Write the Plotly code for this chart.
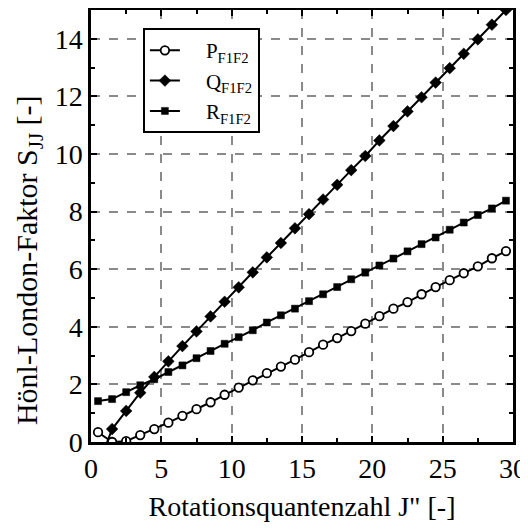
import plotly.graph_objects as go

J = [0.5 + i for i in range(30)]

P_F1F2 = [0.34, 0.00, 0.03, 0.24, 0.45, 0.67, 0.91, 1.14, 1.38, 1.64,
          1.89, 2.14, 2.39, 2.62, 2.86, 3.12, 3.38, 3.61, 3.85, 4.11,
          4.37, 4.63, 4.86, 5.13, 5.38, 5.62, 5.86, 6.10, 6.38, 6.63]

Q_F1F2 = [-0.84, 0.45, 1.08, 1.71, 2.26, 2.80, 3.33, 3.84, 4.36, 4.87,
          5.37, 5.89, 6.41, 6.91, 7.42, 7.91, 8.42, 8.93, 9.44, 9.93,
          10.47, 10.97, 11.48, 11.97, 12.48, 12.98, 13.48, 13.98, 14.49, 15.00]

R_F1F2 = [1.42, 1.49, 1.73, 1.97, 2.18, 2.43, 2.66, 2.91, 3.16, 3.41,
          3.64, 3.88, 4.15, 4.40, 4.63, 4.89, 5.13, 5.38, 5.65, 5.88,
          6.13, 6.37, 6.62, 6.87, 7.10, 7.37, 7.62, 7.88, 8.11, 8.38]

series_names = ["P<sub>F1F2</sub>", "Q<sub>F1F2</sub>", "R<sub>F1F2</sub>"]

x_title = "Rotationsquantenzahl J\" [-]"
y_title = "Hönl-London-Faktor S<sub>JJ</sub> [-]"

FONT = "Liberation Serif, Times New Roman, serif"
PAD = "    "

fig = go.Figure()
fig.add_trace(go.Scatter(
    x=J, y=P_F1F2, name=PAD + series_names[0], mode="lines+markers",
    line=dict(color="black", width=2),
    marker=dict(symbol="circle", size=8.5, color="white", line=dict(color="black", width=1.8)),
))
fig.add_trace(go.Scatter(
    x=J, y=Q_F1F2, name=PAD + series_names[1], mode="lines+markers",
    line=dict(color="black", width=2),
    marker=dict(symbol="diamond", size=9, color="black", line=dict(color="black", width=0.5)),
))
fig.add_trace(go.Scatter(
    x=J, y=R_F1F2, name=PAD + series_names[2], mode="lines+markers",
    line=dict(color="black", width=2),
    marker=dict(symbol="square", size=7, color="black", line=dict(color="black", width=0.5)),
))

axis_common = dict(
    showline=True, linecolor="black", linewidth=2.5, mirror="ticks",
    ticks="inside", ticklen=6, tickwidth=2, tickcolor="black",
    showgrid=True, gridcolor="#8a8a8a", gridwidth=1.5, griddash="dash",
    zeroline=False, automargin=False,
    tickfont=dict(family=FONT, size=28, color="black"),
    title_font=dict(family=FONT, size=28, color="black"),
)

fig.update_xaxes(
    range=[0, 30], tickvals=[0, 5, 10, 15, 20, 25, 30],
    minor=dict(ticks="inside", ticklen=4, tickwidth=2, dtick=2.5, tickcolor="black", showgrid=False),
    title=dict(text=x_title, standoff=14),
    **axis_common,
)
fig.update_yaxes(
    range=[0, 15], tickvals=[0, 2, 4, 6, 8, 10, 12, 14],
    minor=dict(ticks="inside", ticklen=4, tickwidth=2, dtick=1, tickcolor="black", showgrid=False),
    **axis_common,
)

fig.add_annotation(
    text=y_title, textangle=-90, showarrow=False,
    xref="paper", yref="paper", x=-0.147, y=0.421,
    xanchor="center", yanchor="middle",
    font=dict(family=FONT, size=30, color="black"),
)

# page body has an 8px default margin, so the figure is sized to fit the window
fig.update_layout(
    width=520, height=522,
    margin=dict(l=83, r=15, t=2, b=88),
    plot_bgcolor="white", paper_bgcolor="white",
    font=dict(family=FONT, color="black"),
    showlegend=True,
    legend=dict(
        x=0.123, y=0.958, xanchor="left", yanchor="top",
        bgcolor="white", bordercolor="black", borderwidth=2,
        font=dict(family=FONT, size=21, color="black"),
        tracegroupgap=0, itemwidth=30,
    ),
)

fig.write_html("out.html")
